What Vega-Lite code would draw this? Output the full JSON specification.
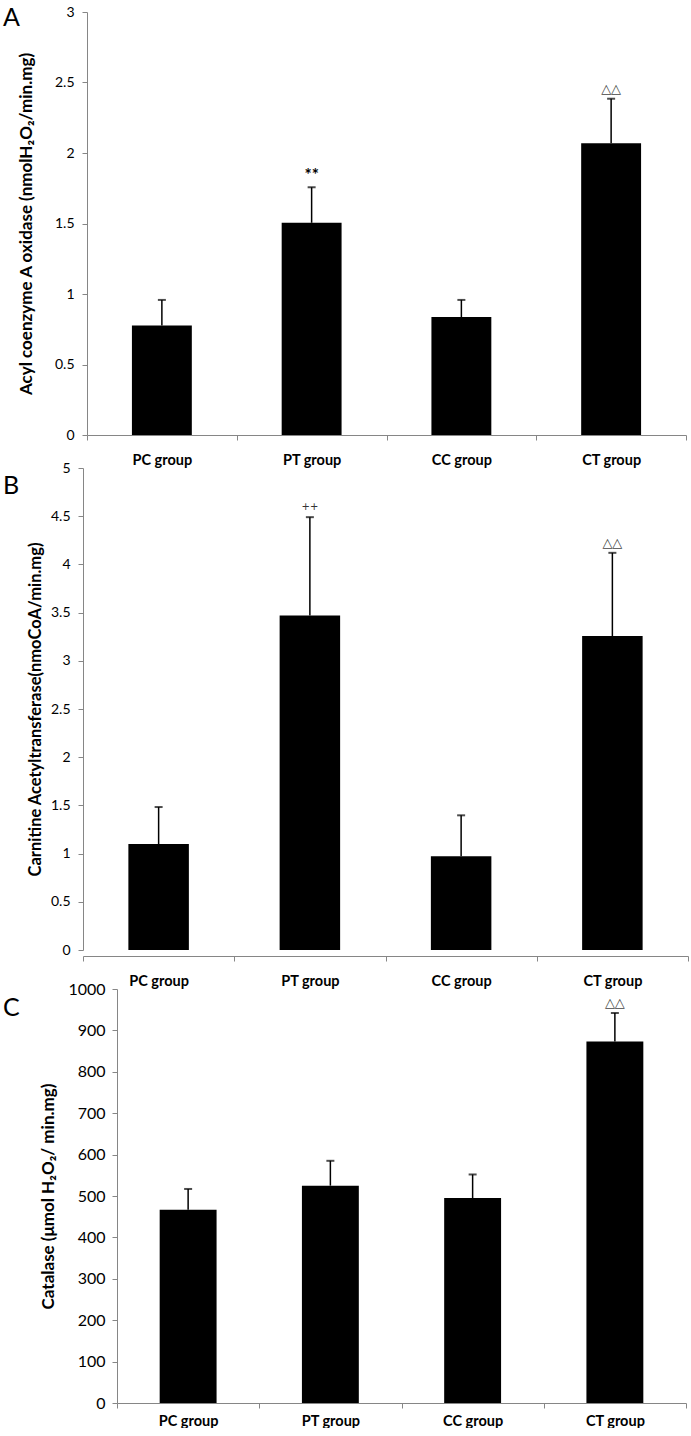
{
  "$schema": "https://vega.github.io/schema/vega-lite/v6.json",
  "padding": {"left": 3, "top": 5, "right": 3, "bottom": 0},
  "background": "white",
  "bounds": "flush",
  "spacing": 33,
  "config": {
    "view": {"stroke": null},
    "font": "Lato",
    "axis": {
      "domainColor": "#868686", "tickColor": "#868686", "labelColor": "#000000",
      "labelFont": "Lato", "titleFont": "Lato", "grid": false, "domainWidth": 1, "tickWidth": 1,
      "titleColor": "#000000"
    },
    "title": {"font": "Lato", "fontWeight": "normal", "color": "#000000"}
  },
  "vconcat": [
    {
      "width": 603, "height": 423,
      "title": {"text": "A", "anchor": "start", "frame": "group", "fontSize": 25, "baseline": "top", "dx": -80, "dy": 30},
      "data": {"values": [
        {"group": "PC group", "value": 0.776, "err": 0.958, "sig": "", "tri": ""},
        {"group": "PT group", "value": 1.505, "err": 1.757, "sig": "**", "tri": ""},
        {"group": "CC group", "value": 0.837, "err": 0.958, "sig": "", "tri": ""},
        {"group": "CT group", "value": 2.07, "err": 2.385, "sig": "", "tri": "△△"}
      ]},
      "encoding": {
        "x": {"field": "group", "type": "nominal", "sort": null,
          "scale": {"range": [4, 603], "paddingInner": 0, "paddingOuter": 0},
          "axis": {"title": null, "labelAngle": 0, "labelFontSize": 14.5, "labelFontWeight": "bold", "tickBand": "extent", "tickSize": 5, "labelPadding": 13}}
      },
      "layer": [
        {"mark": {"type": "bar", "color": "#000000", "width": {"band": 0.4}},
         "encoding": {"y": {"field": "value", "type": "quantitative",
           "scale": {"domain": [0, 3], "nice": false},
           "axis": {"values": [0, 0.5, 1, 1.5, 2, 2.5, 3], "format": "~g", "offset": -4, "tickSize": 5, "labelPadding": 8, "labelFontSize": 14,
             "title": "Acyl coenzyme A oxidase (nmolH₂O₂/min.mg)", "titleFontSize": 17, "titleFontWeight": "bold", "titlePadding": 19}}}},
        {"mark": {"type": "rule", "color": "#000000", "strokeWidth": 1.5},
         "encoding": {"y": {"field": "value", "type": "quantitative"}, "y2": {"field": "err"}}},
        {"mark": {"type": "tick", "color": "#000000", "size": 8, "thickness": 2},
         "encoding": {"y": {"field": "err", "type": "quantitative"}}},
        {"mark": {"type": "text", "font": "Lato", "fontWeight": "bold", "fontSize": 17, "color": "#000000", "baseline": "middle", "dy": -11},
         "encoding": {"y": {"field": "err", "type": "quantitative"}, "text": {"field": "sig"}}},
        {"mark": {"type": "text", "font": "DejaVu Sans", "fontSize": 13, "color": "#444444", "baseline": "alphabetic", "dy": -6},
         "encoding": {"y": {"field": "err", "type": "quantitative"}, "text": {"field": "tri"}}}
      ]
    },
    {
      "width": 605, "height": 488,
      "title": {"text": "B", "anchor": "start", "frame": "group", "fontSize": 25, "baseline": "top", "dx": -80, "dy": 42},
      "data": {"values": [
        {"group": "PC group", "value": 1.099, "err": 1.483, "sig": "", "tri": ""},
        {"group": "PT group", "value": 3.469, "err": 4.49, "sig": "++", "tri": ""},
        {"group": "CC group", "value": 0.973, "err": 1.397, "sig": "", "tri": ""},
        {"group": "CT group", "value": 3.257, "err": 4.12, "sig": "", "tri": "△△"}
      ]},
      "encoding": {
        "x": {"field": "group", "type": "nominal", "sort": null,
          "scale": {"paddingInner": 0, "paddingOuter": 0},
          "axis": {"title": null, "labelAngle": 0, "labelFontSize": 14.5, "labelFontWeight": "bold", "tickBand": "extent", "tickSize": 5, "labelPadding": 13}}
      },
      "layer": [
        {"mark": {"type": "bar", "color": "#000000", "width": {"band": 0.4}},
         "encoding": {"y": {"field": "value", "type": "quantitative",
           "scale": {"domain": [0, 5], "nice": false, "range": [482, 0]},
           "axis": {"values": [0, 0.5, 1, 1.5, 2, 2.5, 3, 3.5, 4, 4.5, 5], "format": "~g", "tickSize": 5, "labelPadding": 8, "labelFontSize": 14,
             "title": "Carnitine Acetyltransferase(nmoCoA/min.mg)", "titleFontSize": 16.5, "titleFontWeight": "bold", "titlePadding": 7}}}},
        {"mark": {"type": "rule", "color": "#000000", "strokeWidth": 1.5},
         "encoding": {"y": {"field": "value", "type": "quantitative"}, "y2": {"field": "err"}}},
        {"mark": {"type": "tick", "color": "#000000", "size": 8, "thickness": 2},
         "encoding": {"y": {"field": "err", "type": "quantitative"}}},
        {"mark": {"type": "text", "font": "DejaVu Sans", "fontSize": 10, "color": "#333333", "baseline": "alphabetic", "dy": -7},
         "encoding": {"y": {"field": "err", "type": "quantitative"}, "text": {"field": "sig"}}},
        {"mark": {"type": "text", "font": "DejaVu Sans", "fontSize": 13, "color": "#444444", "baseline": "alphabetic", "dy": -6},
         "encoding": {"y": {"field": "err", "type": "quantitative"}, "text": {"field": "tri"}}}
      ]
    },
    {
      "width": 603, "height": 414,
      "title": {"text": "C", "anchor": "start", "frame": "group", "fontSize": 25, "baseline": "top", "dx": -80, "dy": 44},
      "data": {"values": [
        {"group": "PC group", "value": 467, "err": 517, "tri": ""},
        {"group": "PT group", "value": 525, "err": 585, "tri": ""},
        {"group": "CC group", "value": 495, "err": 552, "tri": ""},
        {"group": "CT group", "value": 873, "err": 942, "tri": "△△"}
      ]},
      "encoding": {
        "x": {"field": "group", "type": "nominal", "sort": null,
          "scale": {"range": [34, 603], "paddingInner": 0, "paddingOuter": 0},
          "axis": {"title": null, "labelAngle": 0, "labelFontSize": 14.5, "labelFontWeight": "bold", "tickBand": "extent", "tickSize": 5, "labelPadding": 6}}
      },
      "layer": [
        {"mark": {"type": "bar", "color": "#000000", "width": {"band": 0.4}},
         "encoding": {"y": {"field": "value", "type": "quantitative",
           "scale": {"domain": [0, 1000], "nice": false},
           "axis": {"values": [0, 100, 200, 300, 400, 500, 600, 700, 800, 900, 1000], "format": "d", "offset": -34, "tickSize": 5, "labelPadding": 7, "labelFontSize": 16,
             "title": "Catalase (μmol H₂O₂/ min.mg)", "titleFontSize": 17, "titleFontWeight": "bold", "titlePadding": 10}}}},
        {"mark": {"type": "rule", "color": "#000000", "strokeWidth": 1.5},
         "encoding": {"y": {"field": "value", "type": "quantitative"}, "y2": {"field": "err"}}},
        {"mark": {"type": "tick", "color": "#000000", "size": 8, "thickness": 2},
         "encoding": {"y": {"field": "err", "type": "quantitative"}}},
        {"mark": {"type": "text", "font": "DejaVu Sans", "fontSize": 13, "color": "#444444", "baseline": "alphabetic", "dy": -6},
         "encoding": {"y": {"field": "err", "type": "quantitative"}, "text": {"field": "tri"}}}
      ]
    }
  ]
}
